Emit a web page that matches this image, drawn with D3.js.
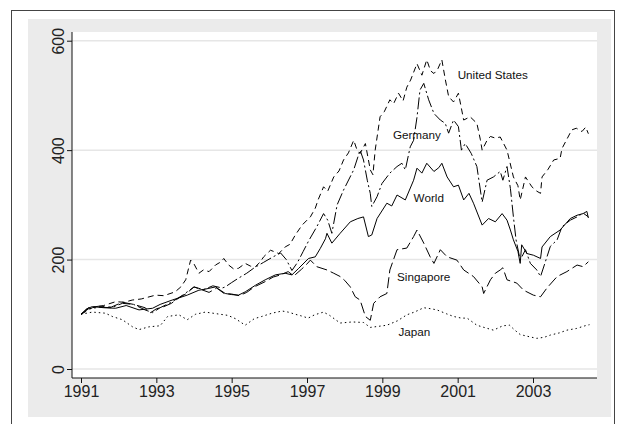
<!DOCTYPE html>
<html>
<head>
<meta charset="utf-8">
<script src="https://cdn.jsdelivr.net/npm/d3@7"></script>
<style>
  body { margin: 0; background: #fff; }
  svg text { font-family: "Liberation Sans", Arial, sans-serif; }
  .tick text { font-family: "Liberation Sans Narrow", "Liberation Sans", Arial, sans-serif; }
</style>
</head>
<body>
<svg id="chart" width="620" height="424"></svg>
<script>
// data: [year, index value], 1991 = 100
const unitedStates = [[1991.0,100],[1991.3,112],[1991.6,116],[1991.92,123],[1992.15,122],[1992.36,126],[1992.6,128],[1992.98,135],[1993.2,134],[1993.5,141],[1993.65,150],[1993.78,163],[1993.91,199],[1994.0,192],[1994.13,175],[1994.25,181],[1994.4,178],[1994.57,190],[1994.72,196],[1994.79,202],[1994.92,190],[1995.05,183],[1995.18,184],[1995.36,193],[1995.5,188],[1995.63,187],[1995.75,195],[1995.85,205],[1996.03,217],[1996.15,214],[1996.25,211],[1996.42,223],[1996.55,228],[1996.69,245],[1996.87,263],[1997.0,272],[1997.09,278],[1997.22,294],[1997.3,310],[1997.44,333],[1997.55,325],[1997.71,351],[1997.85,362],[1997.97,382],[1998.1,395],[1998.24,418],[1998.33,400],[1998.41,394],[1998.55,412],[1998.68,364],[1998.75,355],[1998.81,400],[1998.94,461],[1999.05,470],[1999.2,492],[1999.3,485],[1999.43,504],[1999.55,490],[1999.65,515],[1999.75,528],[1999.92,558],[2000.05,537],[2000.18,565],[2000.28,545],[2000.37,540],[2000.47,548],[2000.58,565],[2000.67,530],[2000.76,498],[2000.89,488],[2001.02,504],[2001.16,455],[2001.33,461],[2001.51,449],[2001.6,420],[2001.65,400],[2001.78,418],[2001.87,425],[2002.0,422],[2002.13,424],[2002.31,400],[2002.48,351],[2002.6,335],[2002.66,309],[2002.8,351],[2002.97,333],[2003.1,325],[2003.2,321],[2003.24,351],[2003.4,365],[2003.55,382],[2003.72,385],[2003.77,403],[2003.9,420],[2004.03,437],[2004.15,440],[2004.3,434],[2004.4,442],[2004.47,430]];

const germany = [[1991.0,100],[1991.2,110],[1991.5,113],[1991.8,112],[1992.1,120],[1992.4,118],[1992.7,108],[1992.9,103],[1993.1,112],[1993.4,122],[1993.7,135],[1994.0,150],[1994.25,145],[1994.5,152],[1994.75,148],[1994.83,150],[1995.0,158],[1995.18,166],[1995.4,175],[1995.6,185],[1995.85,195],[1996.1,205],[1996.3,212],[1996.45,200],[1996.6,180],[1996.75,195],[1996.9,215],[1997.05,235],[1997.26,260],[1997.44,284],[1997.55,272],[1997.66,248],[1997.8,300],[1997.97,327],[1998.24,364],[1998.41,400],[1998.5,382],[1998.6,345],[1998.68,321],[1998.72,297],[1998.86,315],[1998.99,339],[1999.2,358],[1999.39,370],[1999.52,376],[1999.61,364],[1999.74,406],[1999.83,418],[1999.92,460],[2000.0,510],[2000.1,522],[2000.23,492],[2000.37,467],[2000.54,455],[2000.67,449],[2000.76,431],[2000.89,455],[2001.02,443],[2001.1,400],[2001.2,412],[2001.36,394],[2001.51,370],[2001.65,305],[2001.78,345],[2001.95,351],[2002.13,361],[2002.2,345],[2002.31,370],[2002.4,330],[2002.48,278],[2002.55,236],[2002.66,199],[2002.8,218],[2002.93,193],[2003.1,181],[2003.2,169],[2003.3,190],[2003.46,224],[2003.64,236],[2003.77,260],[2003.99,272],[2004.17,278],[2004.33,285],[2004.47,278]];

const world = [[1991.0,100],[1991.15,110],[1991.3,114],[1991.6,112],[1991.92,111],[1992.2,116],[1992.54,108],[1992.9,111],[1993.1,118],[1993.42,126],[1993.6,130],[1993.82,135],[1994.13,144],[1994.3,146],[1994.57,150],[1994.83,138],[1995.0,136],[1995.18,135],[1995.36,141],[1995.63,153],[1995.89,163],[1996.16,172],[1996.42,175],[1996.6,172],[1996.78,184],[1997.04,202],[1997.22,205],[1997.35,220],[1997.49,238],[1997.53,248],[1997.66,230],[1997.88,248],[1998.15,269],[1998.35,275],[1998.5,278],[1998.63,242],[1998.72,245],[1998.86,275],[1999.12,303],[1999.25,298],[1999.39,318],[1999.61,309],[1999.83,345],[1999.92,367],[2000.05,358],[2000.18,376],[2000.37,361],[2000.5,368],[2000.58,376],[2000.72,351],[2000.89,333],[2001.02,336],[2001.16,309],[2001.3,321],[2001.42,303],[2001.65,263],[2001.82,275],[2002.0,269],[2002.18,284],[2002.31,272],[2002.4,254],[2002.48,236],[2002.6,215],[2002.66,193],[2002.7,227],[2002.84,211],[2003.01,208],[2003.2,202],[2003.24,223],[2003.46,242],[2003.72,254],[2003.99,275],[2004.17,281],[2004.33,284],[2004.43,288],[2004.47,276]];

const singapore = [[1991.0,100],[1991.2,112],[1991.5,115],[1991.8,113],[1992.1,122],[1992.4,118],[1992.7,112],[1992.85,103],[1993.0,110],[1993.2,114],[1993.4,120],[1993.6,130],[1993.8,138],[1994.0,150],[1994.2,145],[1994.4,140],[1994.6,148],[1994.8,138],[1995.0,137],[1995.2,134],[1995.4,140],[1995.6,150],[1995.9,160],[1996.1,168],[1996.3,172],[1996.5,178],[1996.65,170],[1996.85,182],[1997.0,192],[1997.09,199],[1997.26,187],[1997.53,181],[1997.71,175],[1997.88,169],[1998.0,162],[1998.15,150],[1998.28,132],[1998.41,126],[1998.55,96],[1998.68,89],[1998.77,120],[1998.94,132],[1999.12,138],[1999.2,181],[1999.39,218],[1999.65,221],[1999.83,242],[1999.92,254],[2000.1,230],[2000.27,205],[2000.37,193],[2000.54,218],[2000.72,205],[2000.98,199],[2001.16,181],[2001.42,169],[2001.65,150],[2001.69,138],[2001.87,163],[2002.0,175],[2002.13,181],[2002.2,185],[2002.31,163],[2002.57,157],[2002.75,144],[2003.01,135],[2003.2,132],[2003.37,148],[2003.64,169],[2003.9,178],[2004.17,190],[2004.33,187],[2004.47,196]];

const japan = [[1991.0,100],[1991.3,104],[1991.65,102],[1991.83,96],[1992.1,90],[1992.37,77],[1992.54,72],[1992.8,77],[1993.1,79],[1993.3,96],[1993.6,99],[1993.82,90],[1994.04,100],[1994.3,104],[1994.6,101],[1994.9,98],[1995.1,92],[1995.36,80],[1995.6,92],[1995.8,96],[1996.07,102],[1996.34,106],[1996.5,104],[1996.69,100],[1996.85,97],[1997.03,93],[1997.2,99],[1997.44,104],[1997.6,98],[1997.88,84],[1998.2,86],[1998.5,85],[1998.68,76],[1998.9,78],[1999.12,80],[1999.4,88],[1999.65,99],[1999.85,104],[2000.1,112],[2000.3,110],[2000.45,108],[2000.7,101],[2000.89,96],[2001.1,93],[2001.25,93],[2001.51,80],[2001.7,76],[2001.95,71],[2002.2,79],[2002.38,80],[2002.5,72],[2002.66,63],[2002.9,59],[2003.1,56],[2003.3,58],[2003.46,62],[2003.7,66],[2003.9,71],[2004.15,74],[2004.43,80],[2004.5,81]];

const seriesNames = ["United States", "Germany", "World", "Singapore", "Japan"];
const seriesData = [unitedStates, germany, world, singapore, japan];
// where each name sits on the chart, in data units [year, value]
const labelAt = [[2001.0, 537], [1999.28, 428], [1999.83, 313], [1999.39, 168], [1999.43, 67]];

const yTicks = [0, 200, 400, 600];
const xTicks = [1991, 1993, 1995, 1997, 1999, 2001, 2003];

// ------------------------------------------
const svg = d3.select("#chart");

const plot = { left: 72, right: 597, top: 32, bottom: 378 };

const x = d3.scaleLinear().domain([1991, 2003]).range([81, 533]);
const y = d3.scaleLinear().domain([0, 600]).range([369, 40.7]);

// us dash, germany longdash-dot, world solid, singapore longdash, japan dot
const dashes = ["6,4", "12,3,2,3", null, "11,4", "1.5,3"];

// outer frame
svg.append("rect")
    .attr("x", 11.5).attr("y", 10.5)
    .attr("width", 603).attr("height", 420)
    .attr("fill", "#fff").attr("stroke", "#444");

svg.append("rect")
    .attr("x", 28).attr("y", 19)
    .attr("width", 583).attr("height", 398)
    .attr("fill", "#ebebeb");

svg.append("rect")
    .attr("x", plot.left).attr("y", plot.top)
    .attr("width", plot.right - plot.left).attr("height", plot.bottom - plot.top)
    .attr("fill", "#fff");

// gridlines
svg.append("g").selectAll("line")
    .data(yTicks)
    .enter().append("line")
    .attr("x1", plot.left).attr("x2", plot.right)
    .attr("y1", d => y(d)).attr("y2", d => y(d))
    .attr("stroke", "#e6e6e6").attr("stroke-width", 1.5);

// labels get a white box (Germany sits on the 400 gridline)
const labels = svg.append("g").selectAll("g")
    .data(seriesNames)
    .enter().append("g");

labels.append("rect").attr("fill", "#fff");

const lineGen = d3.line()
    .x(d => x(d[0]))
    .y(d => y(d[1]));

svg.append("g").selectAll("path")
    .data(seriesData)
    .enter().append("path")
    .attr("d", lineGen)
    .attr("fill", "none")
    .attr("stroke", "#000")
    .attr("stroke-width", 1)
    .attr("stroke-dasharray", (d, i) => dashes[i]);

labels.append("text")
    .attr("x", (d, i) => x(labelAt[i][0]))
    .attr("y", (d, i) => y(labelAt[i][1]))
    .attr("dy", "0.35em")
    .attr("font-size", "11.7px")
    .attr("fill", "#111")
    .text(d => d);

labels.each(function() {
  const g = d3.select(this);
  const bb = g.select("text").node().getBBox();
  g.select("rect")
    .attr("x", bb.x - 1).attr("y", bb.y)
    .attr("width", bb.width + 2).attr("height", bb.height);
});

// axes
const yAxis = svg.append("g")
    .attr("transform", `translate(${plot.left},0)`)
    .call(d3.axisLeft(y).tickValues(yTicks).tickSize(5).tickSizeOuter(0));
yAxis.select(".domain").remove();
yAxis.selectAll(".tick line").attr("stroke", "#111");
yAxis.selectAll(".tick text")
    .attr("transform", "rotate(-90)")
    .attr("x", 0).attr("y", -14)
    .attr("dy", "0.35em")
    .attr("text-anchor", "middle")
    .attr("font-size", "16px")
    .attr("fill", "#222");
yAxis.append("line")
    .attr("y1", plot.top).attr("y2", plot.bottom)
    .attr("stroke", "#111");

const xAxis = svg.append("g")
    .attr("transform", `translate(0,${plot.bottom})`)
    .call(d3.axisBottom(x).tickValues(xTicks).tickFormat(d3.format("d")).tickSize(5).tickSizeOuter(0));
xAxis.select(".domain").remove();
xAxis.selectAll(".tick line").attr("stroke", "#111");
xAxis.selectAll(".tick text")
    .attr("y", 8)
    .attr("font-size", "16px")
    .attr("fill", "#222");
xAxis.append("line")
    .attr("x1", plot.left).attr("x2", plot.right)
    .attr("stroke", "#111");
</script>
</body>
</html>
